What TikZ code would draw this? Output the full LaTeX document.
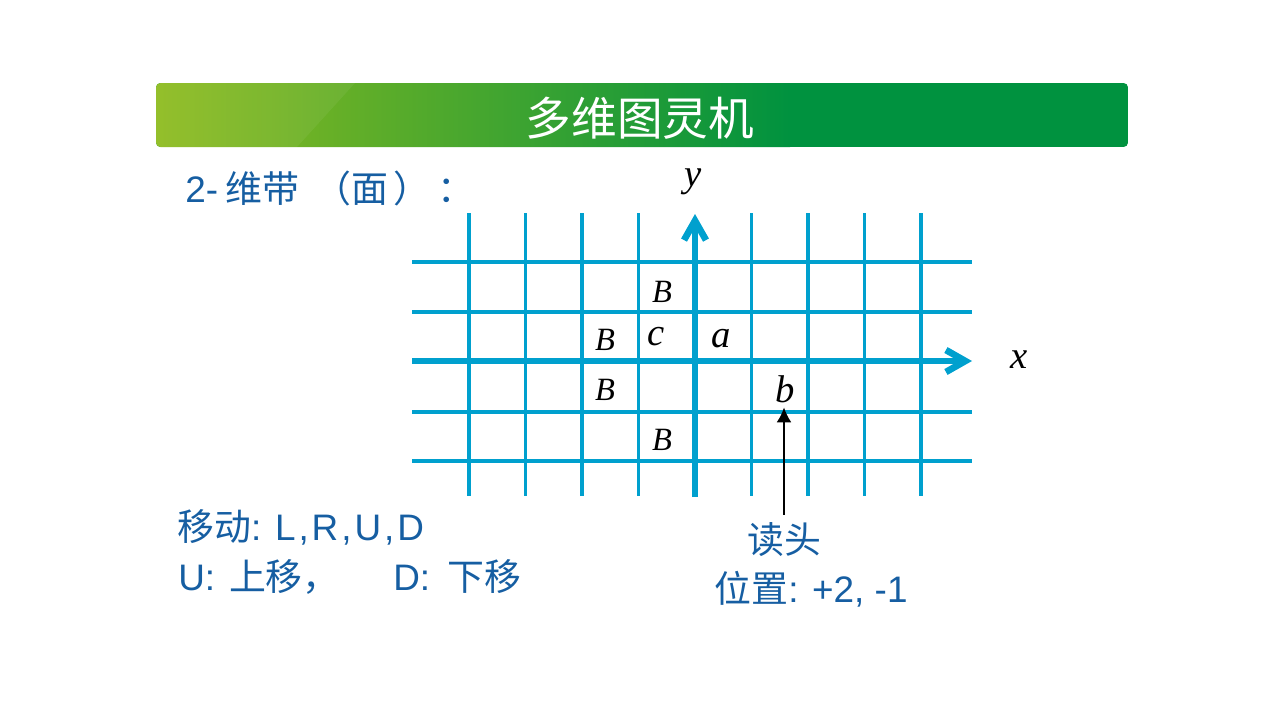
\documentclass[tikz,border=0pt]{standalone}
\usepackage{fontspec}
\setmainfont{Liberation Sans}
\newfontfamily\cjk{Noto Sans CJK SC}
\newfontfamily\symserif{Liberation Serif}
\usetikzlibrary{arrows.meta,positioning}
\definecolor{gridblue}{RGB}{0,160,206}
\definecolor{textblue}{RGB}{22,94,162}
\definecolor{barlime}{RGB}{142,187,30}
\definecolor{bargreen}{RGB}{0,146,63}

\begin{document}
\begin{tikzpicture}[
    x=0.02cm, y=-0.02cm,
    gridline/.style={draw=gridblue, line width=1.9pt},
    axisline/.style={draw=gridblue, line width=3.8pt, -{Straight Barb[length=11pt,width=12.5pt]}},
    symbig/.style={font=\symserif\itshape\fontsize{22}{22}\selectfont, inner sep=0pt},
    symsmall/.style={font=\symserif\itshape\fontsize{18.5}{18.5}\selectfont, inner sep=0pt},
    bodytext/.style={font=\fontsize{21}{25}\selectfont, text=textblue, inner sep=0pt},
    headarrow/.style={-{Latex[length=8.5pt,width=8.5pt]}, line width=1.2pt}
]
\useasboundingbox (0,0) rectangle (1280,720);

% Title bar
\begin{scope}
\clip[rounded corners=2.5pt] (156,83) rectangle (1128,147);
\fill[bargreen] (156,83) rectangle (1128,147);
\shade[left color=barlime, right color=bargreen] (156,83) rectangle (790,147);
\fill[white, opacity=0.06] (156,83) -- (355,83) -- (297,147) -- (156,147) -- cycle;
\end{scope}
\node[font=\cjk\fontsize{26}{26}\selectfont, text=white] (title) at (640,118) {多维图灵机};

% Tape heading
\node[bodytext, anchor=base west] (tape) at (185,202)
  {2-\hspace{4pt}{\cjk 维带\hspace{9pt}（面\hspace{3pt}）\hspace{4pt}：}};

% Grid
\foreach \gx in {469,525.5,582,638.5,751.5,808,864.5,921}
  \draw[gridline] (\gx,213) -- (\gx,496);
\foreach \gy in {262,312,412,461}
  \draw[gridline] (412,\gy) -- (972,\gy);

% Axes
\draw[axisline] (412,361) -- (972,361);
\draw[axisline] (695,497) -- (695,214);
\node[symbig] (xlab) at (1019,360) {x};
\node[symbig] (ylab) at (693,182) {y};

% Cell symbols
\node[symsmall] (b1) at (662,292) {B};
\node[symsmall] (b2) at (605,340) {B};
\node[symsmall] (b3) at (605,390) {B};
\node[symsmall] (b4) at (662,440) {B};
\node[symbig] (csym) at (656,337) {c};
\node[symbig] (asym) at (721,339) {a};
\node[symbig] (bsym) at (785,389) {b};

% Moves
\node[bodytext, anchor=base west] (moves) at (177,540)
  {{\cjk 移动}: {\addfontfeatures{LetterSpace=8}L,R,U,D}};
\node[bodytext, anchor=base west] (updown) at (178,590)
  {U:\hspace{2pt} {\cjk 上移，}\hspace{30.5pt}D:\hspace{4pt} {\cjk 下移}};

% Read head
\node[bodytext, anchor=base] (head) at (784,553) {\cjk 读头};
\node[bodytext, anchor=base] (pos) at (811,602) {{\cjk 位置}: +2, -1};
\draw[headarrow, shorten <=4pt, shorten >=2.5pt] (head.north) -- (head.north |- bsym.south);

\end{tikzpicture}
\end{document}
